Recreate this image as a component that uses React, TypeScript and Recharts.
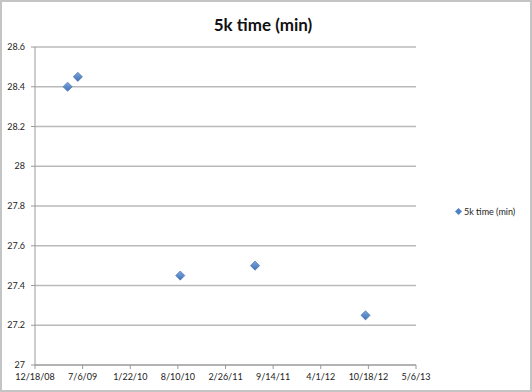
import React from "react";
import { ScatterChart, Scatter, XAxis, YAxis, CartesianGrid, Legend } from "recharts";

const seriesName = "5k time (min)";
const runDates = ["5/4/09", "6/16/09", "8/20/10", "6/30/11", "10/6/12"];
const runTimes = [28.4, 28.45, 27.45, 27.5, 27.25];
const xTickLabels = ["12/18/08", "7/6/09", "1/22/10", "8/10/10", "2/26/11", "9/14/11", "4/1/12", "10/18/12", "5/6/13"];
const yTicks = [27, 27.2, 27.4, 27.6, 27.8, 28, 28.2, 28.4, 28.6];

const EPOCH = Date.UTC(1899, 11, 30);
const toSerial = (s: string) => {
  const [m, d, y] = s.split("/").map(Number);
  return Math.round((Date.UTC(2000 + y, m - 1, d) - EPOCH) / 86400000);
};
const fromSerial = (n: number) => {
  const dt = new Date(EPOCH + n * 86400000);
  const yy = String(dt.getUTCFullYear() % 100).padStart(2, "0");
  return `${dt.getUTCMonth() + 1}/${dt.getUTCDate()}/${yy}`;
};

const xTicks = xTickLabels.map(toSerial);
const data = runDates.map((d, i) => ({ x: toSerial(d), y: runTimes[i] }));

const FONT = "Lato, 'Open Sans', sans-serif";

const Diamond = (props: any) => {
  const { cx, cy } = props;
  const r = 4.6;
  return (
    <g>
      <defs>
        <linearGradient id="dg" x1="0" y1="0" x2="0" y2="1">
          <stop offset="0%" stopColor="#7ea6db" />
          <stop offset="100%" stopColor="#3f72b8" />
        </linearGradient>
      </defs>
      <polygon
        points={`${cx},${cy - r} ${cx + r},${cy} ${cx},${cy + r} ${cx - r},${cy}`}
        fill="url(#dg)"
        stroke="#3c6bab"
        strokeWidth={0.6}
      />
    </g>
  );
};

const LegendContent = () => (
  <div
    style={{
      display: "flex",
      alignItems: "center",
      whiteSpace: "nowrap",
      paddingLeft: 39,
      width: 160,
      fontFamily: FONT,
      fontSize: 9,
      color: "#222",
    }}
  >
    <svg width={7} height={7} style={{ marginRight: 2, flexShrink: 0, display: "block" }}>
      <polygon points="3.5,0 7,3.5 3.5,7 0,3.5" fill="#4f81c7" />
    </svg>
    <span>{seriesName}</span>
  </div>
);

export default function App() {
  return (
    <div style={{ position: "absolute", left: 0, top: 0, width: 532, height: 392, background: "#fff" }}>
      <div
        style={{
          position: "absolute",
          left: 0,
          top: 14,
          width: 526,
          textAlign: "center",
          fontFamily: FONT,
          fontWeight: 700,
          fontSize: 17,
          color: "#111",
        }}
      >
        {seriesName}
      </div>
      <div style={{ position: "absolute", left: 0, top: 0 }}>
        <ScatterChart width={532} height={392} margin={{ top: 47, right: 36, bottom: 7, left: 0 }}>
          <CartesianGrid vertical={false} stroke="#bababa" strokeWidth={1.5} />
          <XAxis
            type="number"
            dataKey="x"
            domain={[xTicks[0], xTicks[xTicks.length - 1]]}
            ticks={xTicks}
            interval={0}
            tickFormatter={fromSerial}
            height={20}
            tickSize={4}
            tickMargin={5}
            stroke="#9a9a9a"
            tick={{ fill: "#222", fontSize: 9, fontFamily: FONT }}
            allowDataOverflow
          />
          <YAxis
            type="number"
            dataKey="y"
            domain={[27, 28.6]}
            ticks={yTicks}
            interval={0}
            width={35}
            tickSize={4}
            tickMargin={6}
            stroke="#9a9a9a"
            tick={{ fill: "#222", fontSize: 9, fontFamily: FONT }}
            allowDataOverflow
          />
          <Legend
            layout="vertical"
            align="right"
            verticalAlign="middle"
            width={80}
            wrapperStyle={{ top: 206 }}
            content={<LegendContent />}
          />
          <Scatter name={seriesName} data={data} shape={<Diamond />} isAnimationActive={false} />
        </ScatterChart>
      </div>
      <div
        style={{
          position: "absolute",
          left: 0,
          top: 0,
          width: 532,
          height: 392,
          boxSizing: "border-box",
          border: "2px solid #c4c4c4",
          pointerEvents: "none",
        }}
      />
    </div>
  );
}
